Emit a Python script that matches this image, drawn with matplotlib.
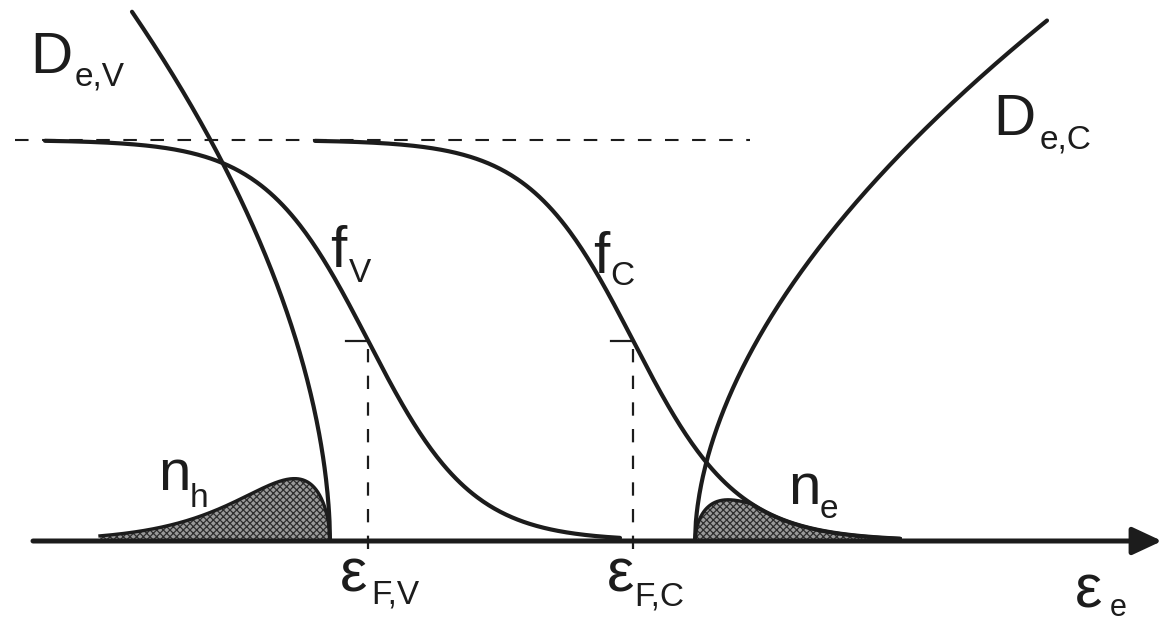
import numpy as np
import matplotlib
matplotlib.use('Agg')
import matplotlib.pyplot as plt

plt.rcParams['font.family'] = ['Liberation Sans', 'DejaVu Sans']
plt.rcParams['hatch.linewidth'] = 0.9

# energy scale (drawing units along the horizontal axis)
E_V = 330      # valence band edge
E_C = 695      # conduction band edge
E_FV = 368     # quasi-Fermi level of the valence band
E_FC = 633     # quasi-Fermi level of the conduction band
kT = 52

# density of states D = A * |E - edge|**p, in units of f = 1
A_V = 0.072
A_C = 0.0516
p_dos = 0.55
# carrier densities are drawn magnified
nh_scale = 1.55
ne_scale = 2.1

# where each curve starts and stops
fv_range = (45, 620)
fc_range = (315, 900)
dv_range = (132, E_V)
dc_range = (E_C, 1047)
nh_range = (100, E_V)
ne_range = (E_C, 900)
ref_range = (15, 750)
axis_range = (33, 1162)
tick_len = 22

ink = '#1c1c1c'
shade = dict(facecolor='#9a9a9a', edgecolor='#2e2e2e', hatch='xxxxx', lw=0)


def fermi(E, EF):
    return 1.0 / (1.0 + np.exp((E - EF) / kT))


fig = plt.figure(figsize=(11.64, 6.23), dpi=100)
ax = fig.add_axes([0, 0, 1, 1])
ax.set_xlim(0, 1164)
ax.set_ylim(-82 / 401, 541 / 401)
ax.axis('off')

# f = 1 reference line
ax.plot(ref_range, [1, 1], color=ink, lw=1.5, ls=(0, (6.5, 6.5)))

# Fermi functions
E = np.linspace(*fv_range, 400)
ax.plot(E, fermi(E, E_FV), color=ink, lw=3.0, solid_capstyle='round')
E = np.linspace(*fc_range, 400)
ax.plot(E, fermi(E, E_FC), color=ink, lw=3.0, solid_capstyle='round')

# valence band DOS and hole density n_h = D_V (1 - f_V)
E = np.linspace(*dv_range, 400)
ax.plot(E, A_V * (E_V - E) ** p_dos, color=ink, lw=3.0, solid_capstyle='round')
E = np.linspace(*nh_range, 400)
n_h = nh_scale * A_V * (E_V - E) ** p_dos * (1 - fermi(E, E_FV))
ax.fill_between(E, 0, n_h, **shade)
ax.plot(E, n_h, color=ink, lw=2.4)

# conduction band DOS and electron density n_e = D_C f_C
E = np.linspace(*dc_range, 400)
ax.plot(E, A_C * (E - E_C) ** p_dos, color=ink, lw=3.0, solid_capstyle='round')
E = np.linspace(*ne_range, 400)
f_C = fermi(E, E_FC)
n_e = np.minimum(ne_scale * A_C * (E - E_C) ** p_dos * f_C, f_C)
ax.fill_between(E, 0, n_e, **shade)
ax.plot(E, n_e, color=ink, lw=2.4)

# quasi-Fermi level markers
for EF in (E_FV, E_FC):
    ax.plot([EF, EF], [-0.02, 0.5], color=ink, lw=1.6, ls=(0, (6, 6)))
    ax.plot([EF - tick_len, EF], [0.5, 0.5], color=ink, lw=1.6)

# energy axis
ax.annotate('', xy=(axis_range[1], 0), xytext=(axis_range[0], 0),
            arrowprops=dict(arrowstyle='-|>,head_length=0.6,head_width=0.28',
                            lw=3.6, color=ink, mutation_scale=30,
                            shrinkA=0, shrinkB=0))

big, small, eps = 42, 24, 44
labels = [
    ('D', 30, 1.167, big), ('e,V', 75, 1.137, small),
    ('D', 993, 1.012, big), ('e,C', 1040, 0.980, small),
    ('f', 330, 0.683, big), ('V', 349, 0.646, small),
    ('f', 593, 0.668, big), ('C', 610, 0.638, small),
    ('n', 158, 0.127, big), ('h', 190, 0.085, small),
    ('n', 788, 0.092, big), ('e', 820, 0.057, small),
    ('ε', 340, -0.127, eps), ('F,V', 371, -0.155, small),
    ('ε', 607, -0.127, eps), ('F,C', 634, -0.160, small),
    ('ε', 1075, -0.167, eps), ('e', 1110, -0.187, 22),
]
for s, x, y, size in labels:
    ax.text(x, y, s, fontsize=size, color=ink, ha='left', va='baseline')

fig.savefig('out.png', dpi=100, facecolor='white')
